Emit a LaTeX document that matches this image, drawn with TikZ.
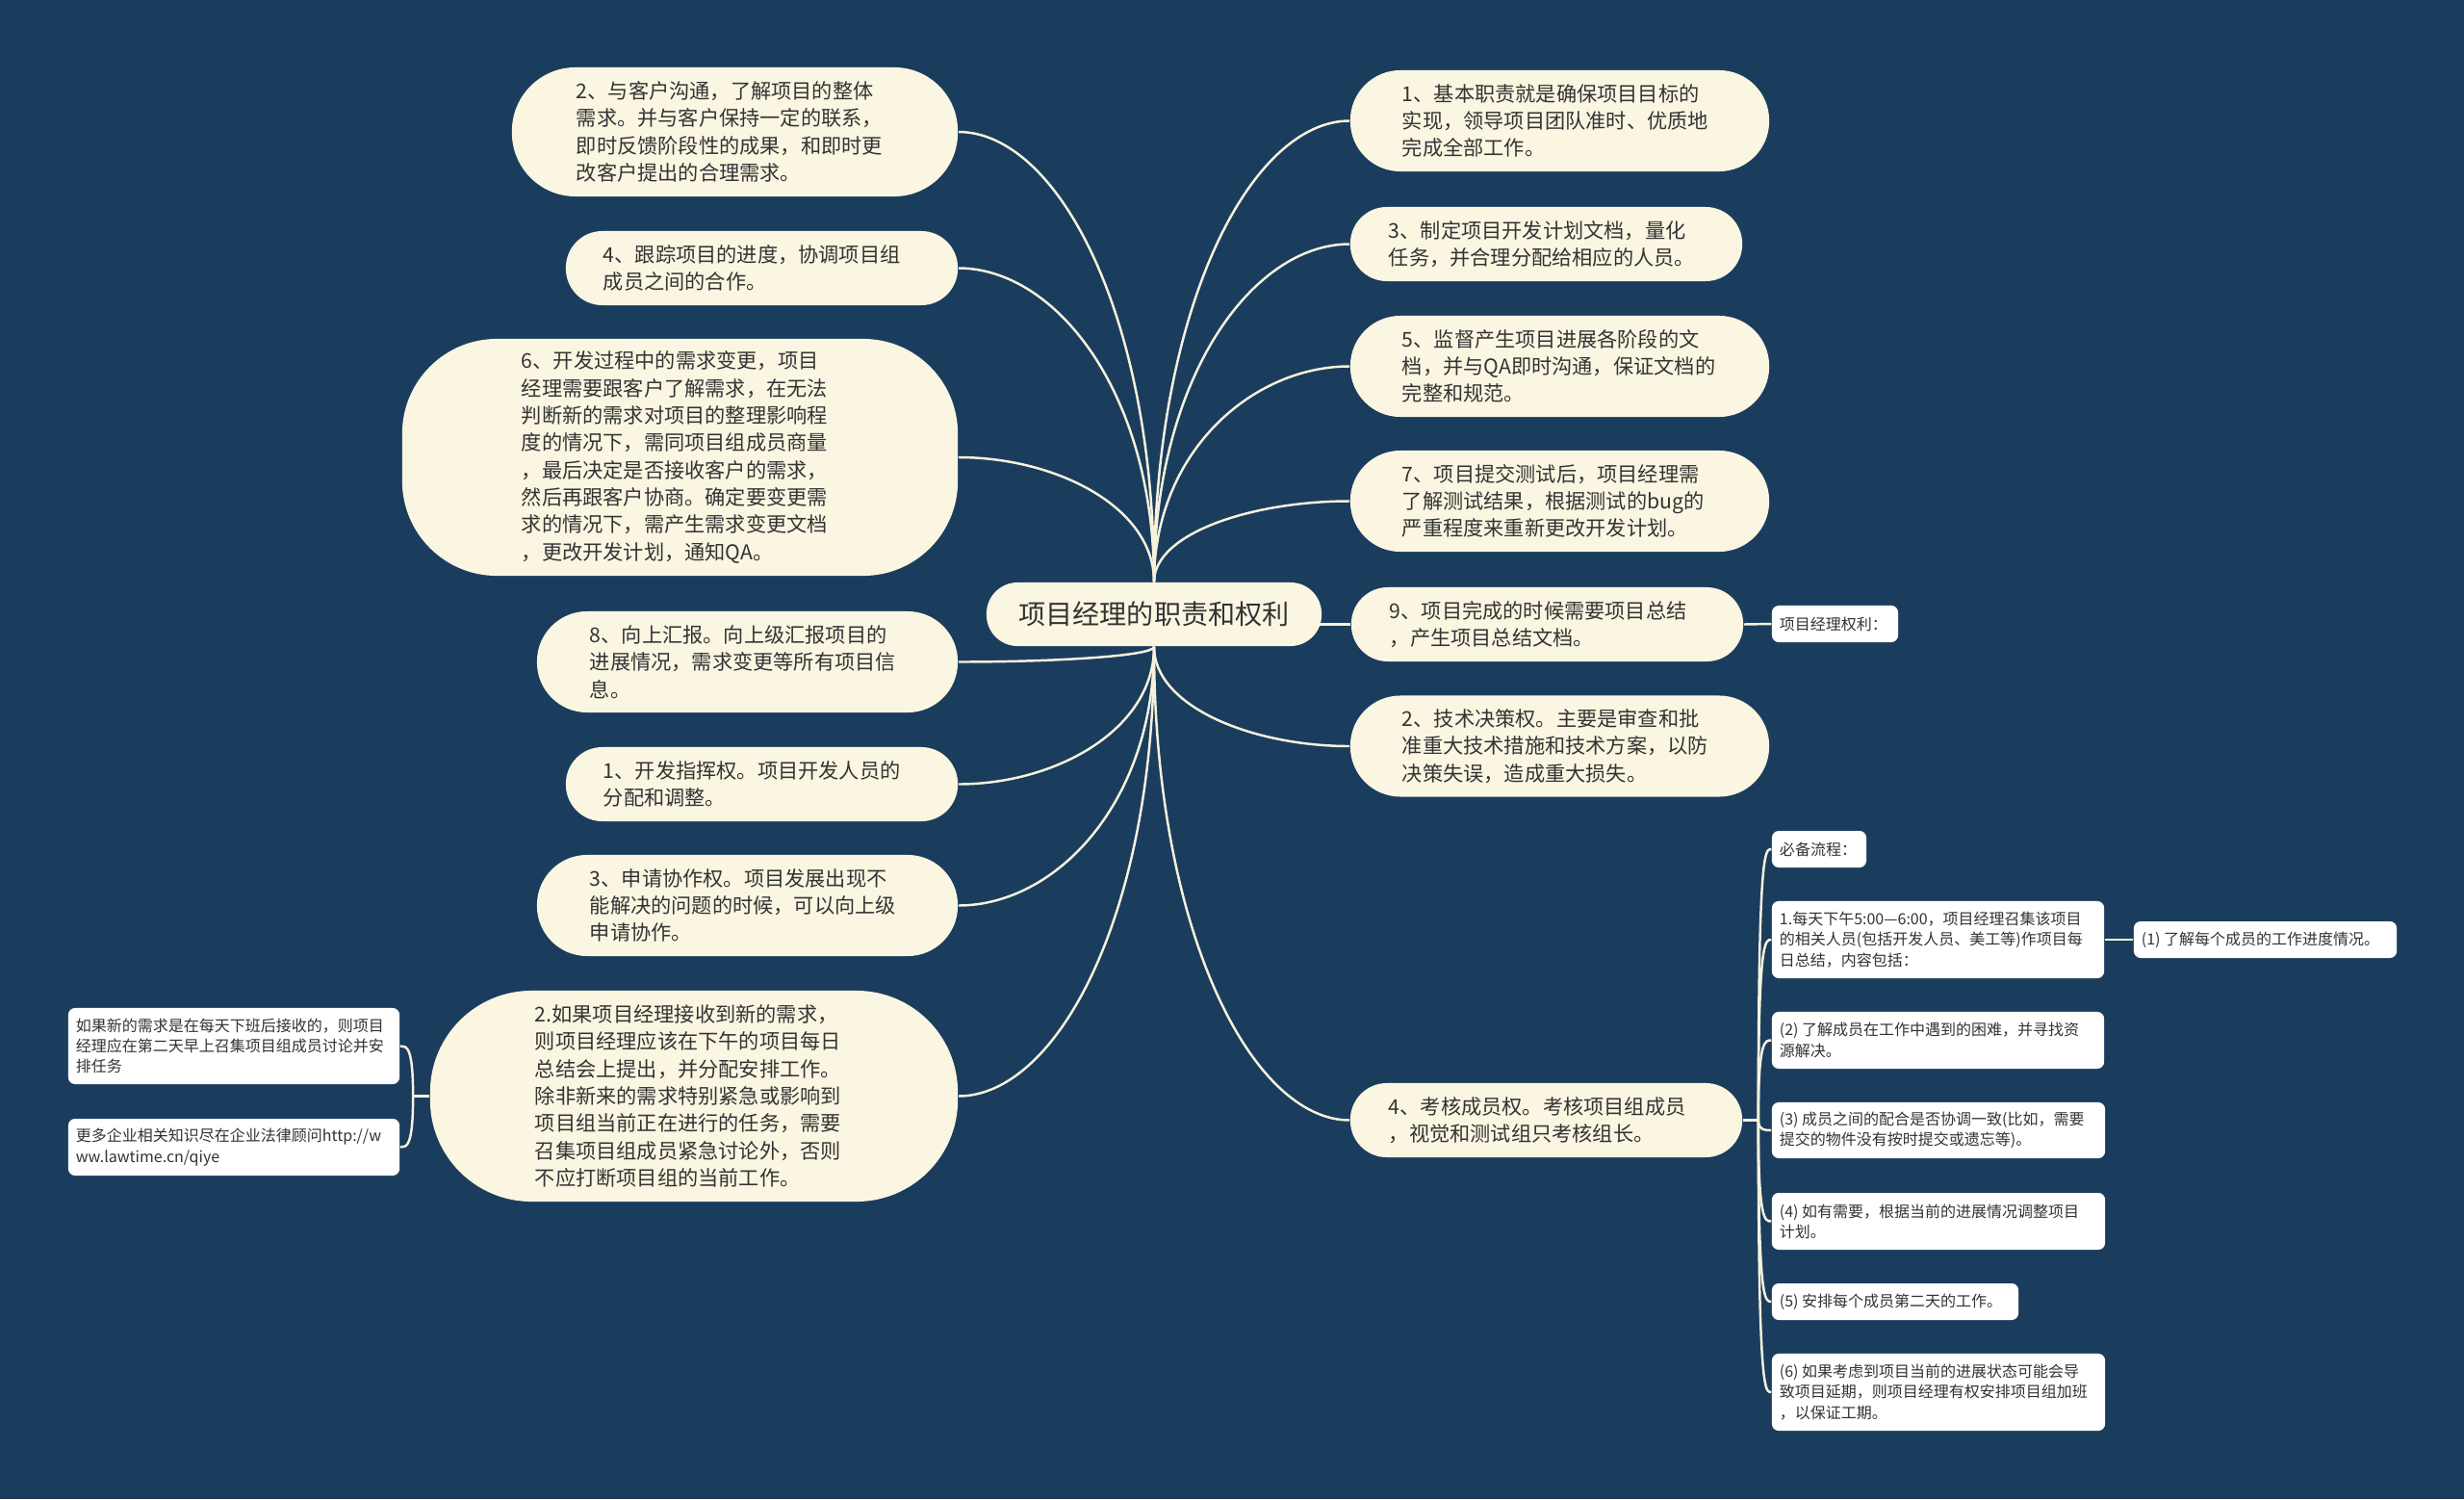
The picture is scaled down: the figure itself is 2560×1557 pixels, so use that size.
\documentclass[tikz,border=0pt]{standalone}
\usepackage{fontspec}
\setmainfont{Noto Sans CJK SC}
\usetikzlibrary{calc}
\definecolor{bgc}{HTML}{1B3D5D}
\definecolor{cream}{HTML}{FAF6E2}
\definecolor{txt}{HTML}{333333}
\definecolor{linec}{HTML}{F6F2DE}
\newcommand\fmain{\fontsize{6.03pt}{8.05pt}\selectfont}
\newcommand\fsmall{\fontsize{4.55pt}{6.05pt}\selectfont}
\newcommand\froot{\fontsize{8.0pt}{9.6pt}\selectfont}
\newcommand\mmlink[2]{\draw[link] (#1) .. controls ($(#1)!0.6!(#1|-#2)$) and ($(#1|-#2)!0.5!(#2)$) .. (#2);}
\newcommand\brlink[2]{\draw[link] (#1) .. controls (#1|-#2) and ($(#1|-#2)!0.5!(#2)$) .. (#2);}
\pgfdeclarelayer{back}
\pgfsetlayers{back,main}
\tikzset{
  pill/.style={fill=cream, inner sep=0pt, draw=none},
  mtext/.style={font=\fmain, text=txt, align=left, inner sep=0pt, anchor=west},
  wbox/.style={fill=white, rounded corners=2pt, inner sep=0pt, draw=none},
  wtext/.style={font=\fsmall, text=txt, align=left, inner sep=0pt, anchor=west},
  link/.style={draw=linec, line width=0.7pt},
}
\begin{document}
\begin{tikzpicture}[x=0.01cm, y=-0.01cm]
\useasboundingbox (0,0) rectangle (2560,1557);
\begin{pgfonlayer}{back}
\fill[bgc] (0,0) rectangle (2560,1557);
\end{pgfonlayer}

% root
\node[pill, minimum width=3.48cm, minimum height=0.66cm, rounded corners=9.2pt, font=\froot, text=txt] (root) at (1199,638) {项目经理的职责和权利};

% left main nodes
\node[pill, minimum width=4.63cm, minimum height=1.34cm, rounded corners=18.8pt] (L1) at (763.5,137) {};
\node[mtext] (L1t) at ([xshift=0.67cm]L1.west) {2、与客户沟通，了解项目的整体\\需求。并与客户保持一定的联系，\\即时反馈阶段性的成果，和即时更\\改客户提出的合理需求。};

\node[pill, minimum width=4.07cm, minimum height=0.77cm, rounded corners=10.8pt] (L2) at (791.5,278.5) {};
\node[mtext] (L2t) at ([xshift=0.39cm]L2.west) {4、跟踪项目的进度，协调项目组\\成员之间的合作。};

\node[pill, minimum width=5.77cm, minimum height=2.46cm, rounded corners=28pt] (L3) at (706.5,475) {};
\node[mtext] (L3t) at ([xshift=1.24cm]L3.west) {6、开发过程中的需求变更，项目\\经理需要跟客户了解需求，在无法\\判断新的需求对项目的整理影响程\\度的情况下，需同项目组成员商量\\，最后决定是否接收客户的需求，\\然后再跟客户协商。确定要变更需\\求的情况下，需产生需求变更文档\\，更改开发计划，通知QA。};

\node[pill, minimum width=4.37cm, minimum height=1.05cm, rounded corners=14.8pt] (L4) at (776.5,687.5) {};
\node[mtext] (L4t) at ([xshift=0.55cm]L4.west) {8、向上汇报。向上级汇报项目的\\进展情况，需求变更等所有项目信\\息。};

\node[pill, minimum width=4.07cm, minimum height=0.77cm, rounded corners=10.8pt] (L5) at (791.5,814.5) {};
\node[mtext] (L5t) at ([xshift=0.39cm]L5.west) {1、开发指挥权。项目开发人员的\\分配和调整。};

\node[pill, minimum width=4.37cm, minimum height=1.05cm, rounded corners=14.8pt] (L6) at (776.5,940.5) {};
\node[mtext] (L6t) at ([xshift=0.55cm]L6.west) {3、申请协作权。项目发展出现不\\能解决的问题的时候，可以向上级\\申请协作。};

\node[pill, minimum width=5.48cm, minimum height=2.19cm, rounded corners=30pt] (L7) at (721,1138.5) {};
\node[mtext] (L7t) at ([xshift=1.09cm]L7.west) {2.如果项目经理接收到新的需求，\\则项目经理应该在下午的项目每日\\总结会上提出，并分配安排工作。\\除非新来的需求特别紧急或影响到\\项目组当前正在进行的任务，需要\\召集项目组成员紧急讨论外，否则\\不应打断项目组的当前工作。};

% L7 children
\node[wbox, minimum width=3.44cm, minimum height=0.79cm] (LL1) at (243,1086.5) {};
\node[wtext] (LL1t) at ([xshift=0.08cm]LL1.west) {如果新的需求是在每天下班后接收的，则项目\\经理应在第二天早上召集项目组成员讨论并安\\排任务};
\node[wbox, minimum width=3.44cm, minimum height=0.59cm] (LL2) at (243,1191.5) {};
\node[wtext] (LL2t) at ([xshift=0.08cm]LL2.west) {更多企业相关知识尽在企业法律顾问http://w\\ww.lawtime.cn/qiye};

% right main nodes
\node[pill, minimum width=4.35cm, minimum height=1.05cm, rounded corners=14.8pt] (R1) at (1620.5,125.5) {};
\node[mtext] (R1t) at ([xshift=0.54cm]R1.west) {1、基本职责就是确保项目目标的\\实现，领导项目团队准时、优质地\\完成全部工作。};

\node[pill, minimum width=4.07cm, minimum height=0.77cm, rounded corners=10.8pt] (R2) at (1606.5,253.5) {};
\node[mtext] (R2t) at ([xshift=0.40cm]R2.west) {3、制定项目开发计划文档，量化\\任务，并合理分配给相应的人员。};

\node[pill, minimum width=4.35cm, minimum height=1.05cm, rounded corners=14.8pt] (R3) at (1620.5,380.5) {};
\node[mtext] (R3t) at ([xshift=0.54cm]R3.west) {5、监督产生项目进展各阶段的文\\档，并与QA即时沟通，保证文档的\\完整和规范。};

\node[pill, minimum width=4.35cm, minimum height=1.05cm, rounded corners=14.8pt] (R4) at (1620.5,520.5) {};
\node[mtext] (R4t) at ([xshift=0.54cm]R4.west) {7、项目提交测试后，项目经理需\\了解测试结果，根据测试的bug的\\严重程度来重新更改开发计划。};

\node[pill, minimum width=4.07cm, minimum height=0.77cm, rounded corners=10.8pt] (R5) at (1607.5,648.5) {};
\node[mtext] (R5t) at ([xshift=0.40cm]R5.west) {9、项目完成的时候需要项目总结\\，产生项目总结文档。};

\node[pill, minimum width=4.35cm, minimum height=1.05cm, rounded corners=14.8pt] (R6) at (1620.5,775) {};
\node[mtext] (R6t) at ([xshift=0.54cm]R6.west) {2、技术决策权。主要是审查和批\\准重大技术措施和技术方案，以防\\决策失误，造成重大损失。};

\node[pill, minimum width=4.07cm, minimum height=0.77cm, rounded corners=10.8pt] (R7) at (1606.5,1163.5) {};
\node[mtext] (R7t) at ([xshift=0.40cm]R7.west) {4、考核成员权。考核项目组成员\\，视觉和测试组只考核组长。};

% small right nodes
\node[wbox, minimum width=1.31cm, minimum height=0.38cm] (P0) at (1906.5,648) {};
\node[wtext] (P0t) at ([xshift=0.08cm]P0.west) {项目经理权利：};

\node[wbox, minimum width=0.98cm, minimum height=0.38cm] (C0) at (1890,882) {};
\node[wtext] (C0t) at ([xshift=0.08cm]C0.west) {必备流程：};

\node[wbox, minimum width=3.45cm, minimum height=0.80cm] (C1) at (2013.5,976) {};
\node[wtext] (C1t) at ([xshift=0.08cm]C1.west) {1.每天下午5:00—6:00，项目经理召集该项目\\的相关人员(包括开发人员、美工等)作项目每\\日总结，内容包括：};

\node[wbox, minimum width=2.73cm, minimum height=0.38cm] (C1a) at (2353.5,976) {};
\node[wtext] (C1at) at ([xshift=0.08cm]C1a.west) {(1) 了解每个成员的工作进度情况。};

\node[wbox, minimum width=3.45cm, minimum height=0.59cm] (C2) at (2013.5,1080.5) {};
\node[wtext] (C2t) at ([xshift=0.08cm]C2.west) {(2) 了解成员在工作中遇到的困难，并寻找资\\源解决。};

\node[wbox, minimum width=3.46cm, minimum height=0.58cm] (C3) at (2014,1174) {};
\node[wtext] (C3t) at ([xshift=0.08cm]C3.west) {(3) 成员之间的配合是否协调一致(比如，需要\\提交的物件没有按时提交或遗忘等)。};

\node[wbox, minimum width=3.46cm, minimum height=0.59cm] (C4) at (2014,1268.5) {};
\node[wtext] (C4t) at ([xshift=0.08cm]C4.west) {(4) 如有需要，根据当前的进展情况调整项目\\计划。};

\node[wbox, minimum width=2.56cm, minimum height=0.38cm] (C5) at (1969,1352) {};
\node[wtext] (C5t) at ([xshift=0.08cm]C5.west) {(5) 安排每个成员第二天的工作。};

\node[wbox, minimum width=3.46cm, minimum height=0.80cm] (C6) at (2014,1446) {};
\node[wtext] (C6t) at ([xshift=0.08cm]C6.west) {(6) 如果考虑到项目当前的进展状态可能会导\\致项目延期，则项目经理有权安排项目组加班\\，以保证工期。};

\coordinate (j7) at ($(R7.east)+(16,0)$);
\coordinate (j2) at ($(L7.west)+(-17,0)$);

% connectors
\begin{pgfonlayer}{back}
\mmlink{root.north}{L1.east}
\mmlink{root.north}{L2.east}
\mmlink{root.north}{L3.east}
\mmlink{root.north}{R1.west}
\mmlink{root.north}{R2.west}
\mmlink{root.north}{R3.west}
\mmlink{root.north}{R4.west}
\mmlink{root.south}{L4.east}
\mmlink{root.south}{L5.east}
\mmlink{root.south}{L6.east}
\mmlink{root.south}{L7.east}
\mmlink{root.south}{R6.west}
\mmlink{root.south}{R7.west}
\draw[link] (root.center |- R5.west) -- (R5.west);
\draw[link] (R5.east) -- (P0.west);
\draw[link] (C1.east) -- (C1a.west);
\draw[link] (R7.east) -- (j7);
\draw[link] (L7.west) -- (j2);
\brlink{j7}{C0.west}
\brlink{j7}{C1.west}
\brlink{j7}{C2.west}
\brlink{j7}{C3.west}
\brlink{j7}{C4.west}
\brlink{j7}{C5.west}
\brlink{j7}{C6.west}
\brlink{j2}{LL1.east}
\brlink{j2}{LL2.east}
\end{pgfonlayer}
\end{tikzpicture}
\end{document}
